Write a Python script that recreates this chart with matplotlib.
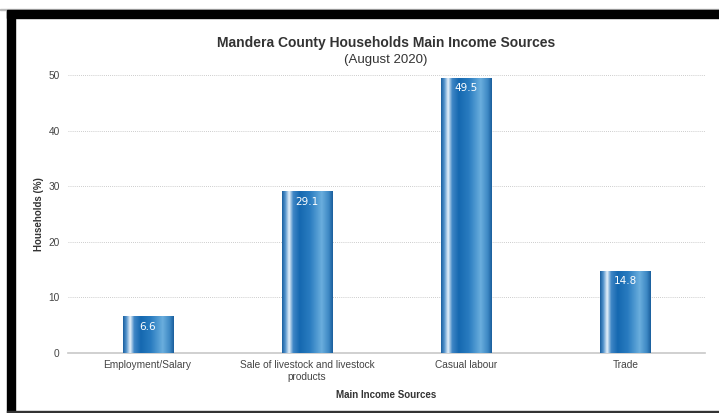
import numpy as np
import matplotlib.pyplot as plt
from matplotlib.colors import LinearSegmentedColormap
from matplotlib.patches import Rectangle

plt.rcParams['font.family'] = ['Liberation Sans', 'DejaVu Sans']

categories = ['Employment/Salary', 'Sale of livestock and livestock\nproducts', 'Casual labour', 'Trade']
values = [6.6, 29.1, 49.5, 14.8]
yticks = [0, 10, 20, 30, 40, 50]

W, H = 719, 413
fig = plt.figure(figsize=(W / 100, H / 100), dpi=100)
ax = fig.add_axes([68 / W, 1 - 353 / H, (705 - 68) / W, (353 - 75) / H])

# cylinder-style shading across each bar
cyl = LinearSegmentedColormap.from_list('cyl', [
    (0.00, '#1a5f9f'), (0.06, '#4d8fc9'), (0.14, '#e6f1fa'), (0.22, '#3f86c6'),
    (0.35, '#1568b0'), (0.55, '#2a7cc0'), (0.78, '#6aaedd'), (0.92, '#3d88c4'),
    (1.00, '#1a5e9c')])
grad = np.linspace(0, 1, 256).reshape(1, -1)

x = np.arange(len(categories))
bw = 0.315
bars = ax.bar(x, values, width=bw, color='none', edgecolor='none', zorder=3)
for b, v in zip(bars, values):
    im = ax.imshow(grad, cmap=cyl, aspect='auto', zorder=3,
                   extent=[b.get_x(), b.get_x() + b.get_width(), 0, v])
    im.set_clip_path(b)
    ax.text(b.get_x() + b.get_width() / 2, v - 1.0, f'{v:.1f}', ha='center', va='top',
            color='white', fontsize=7.5, family=['DejaVu Sans'], zorder=4)

ax.set_xlim(-0.5, len(categories) - 0.5)
ax.set_ylim(0, 50)
ax.set_yticks(yticks)
ax.set_xticks(x)
ax.set_xticklabels(categories)
ax.grid(axis='y', color='#bcbcbc', linestyle=(0, (1, 1.5)), linewidth=0.6, zorder=0)
ax.set_axisbelow(True)
for s in ['top', 'right', 'left']:
    ax.spines[s].set_visible(False)
ax.spines['bottom'].set_color('#c8c8c8')
ax.spines['bottom'].set_linewidth(1.2)
ax.tick_params(axis='both', length=0, labelsize=7.3, labelcolor='#444444')
ax.tick_params(axis='y', pad=6)
ax.tick_params(axis='x', pad=5)

ax.set_xlabel('Main Income Sources', fontsize=7, fontweight='bold', color='#333333', labelpad=6)
ax.set_ylabel('Households (%)', fontsize=7, fontweight='bold', color='#333333', labelpad=3)

fig.text(386 / W, 1 - 43 / H, 'Mandera County Households Main Income Sources', ha='center', va='center',
         fontsize=10, fontweight='bold', color='#333333')
fig.text(386 / W, 1 - 60 / H, '(August 2020)', ha='center', va='center', fontsize=9.5, color='#333333')

# frame around the chart
fig.patches.append(Rectangle((0, 1 - 9.8 / H), 1, 1 / H, transform=fig.transFigure, color='#bbbbbb'))
fig.patches.append(Rectangle((7 / W, 1 - 17.5 / H), 1, 7.5 / H, transform=fig.transFigure, color='black'))
fig.patches.append(Rectangle((7 / W, 1.5 / H), 7.5 / W, (411 - 10) / H, transform=fig.transFigure, color='black'))
fig.patches.append(Rectangle((7 / W, 0.5 / H), 1, 1.2 / H, transform=fig.transFigure, color='#333333'))

fig.savefig('out.png', dpi=100)
